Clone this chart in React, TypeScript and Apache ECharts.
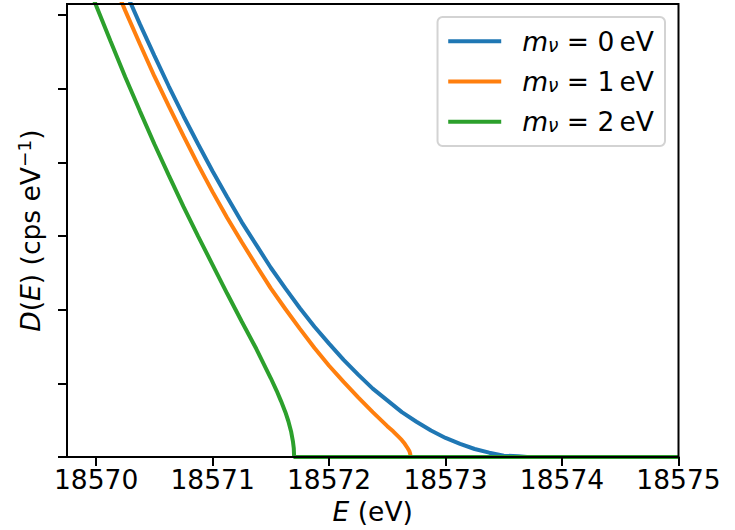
import React, { useEffect, useRef } from "react";
import * as echarts from "echarts";

// ---- data ----
const xTicks = [18570, 18571, 18572, 18573, 18574, 18575];
const yTicks = [0, 1, 2, 3, 4, 5, 6];
const neutrinoMasses = [0, 1, 2];
const colors = ["#1f77b4", "#ff7f0e", "#2ca02c"];

const blueE = [
  18570.25, 18570.375, 18570.5, 18570.625, 18570.75, 18570.875, 18571.0, 18571.125,
  18571.25, 18571.375, 18571.5, 18571.625, 18571.75, 18571.875, 18572.0, 18572.125,
  18572.25, 18572.375, 18572.5, 18572.625, 18572.75, 18572.875, 18573.0, 18573.125,
  18573.25, 18573.375, 18573.5, 18573.625, 18573.7, 18575,
];
const blueD = [
  6.33, 5.88, 5.45, 5.03, 4.63, 4.25, 3.88, 3.53,
  3.19, 2.88, 2.57, 2.29, 2.02, 1.77, 1.54, 1.32,
  1.12, 0.93, 0.77, 0.61, 0.48, 0.36, 0.26, 0.18,
  0.11, 0.06, 0.02, 0.01, 0, 0,
];

const orangeE = [
  18570.125, 18570.25, 18570.375, 18570.5, 18570.625, 18570.75, 18570.875, 18571.0,
  18571.125, 18571.25, 18571.375, 18571.5, 18571.625, 18571.75, 18571.875, 18572.0,
  18572.125, 18572.25, 18572.375, 18572.5, 18572.55, 18572.6, 18572.625, 18572.65,
  18572.675, 18572.69, 18572.697, 18572.7, 18575,
];
const orangeD = [
  6.53, 6.06, 5.61, 5.17, 4.76, 4.36, 3.97, 3.6,
  3.25, 2.92, 2.6, 2.29, 2.01, 1.74, 1.48, 1.24,
  1.02, 0.81, 0.61, 0.42, 0.35, 0.27, 0.23, 0.18,
  0.12, 0.08, 0.04, 0, 0,
];

const greenE = [
  18569.875, 18570.0, 18570.125, 18570.25, 18570.375, 18570.5, 18570.625, 18570.75,
  18570.875, 18571.0, 18571.125, 18571.25, 18571.375, 18571.5, 18571.55, 18571.5875,
  18571.625, 18571.65, 18571.675, 18571.69, 18571.697, 18571.7, 18575,
];
const greenD = [
  6.63, 6.13, 5.64, 5.16, 4.7, 4.25, 3.82, 3.4,
  3.0, 2.61, 2.22, 1.84, 1.47, 1.07, 0.9, 0.76,
  0.61, 0.49, 0.34, 0.21, 0.12, 0, 0,
];

const seriesE = [blueE, orangeE, greenE];
const seriesD = [blueD, orangeD, greenD];

const FONT = "DejaVu Sans";
const FS = 26.5;

export default function App() {
  const ref = useRef<HTMLDivElement>(null);

  useEffect(() => {
    if (!ref.current) return;
    const chart = echarts.init(ref.current, null, { renderer: "svg" });

    const names = neutrinoMasses.map((m) => `m_ν = ${m} eV`);

    const series = names.map((name, i) => ({
      name,
      type: "line",
      data: seriesE[i].map((e, k) => [e, seriesD[i][k]]),
      showSymbol: false,
      symbol: "none",
      lineStyle: { color: colors[i], width: 4 },
      itemStyle: { color: colors[i] },
      clip: true,
      z: 3 + i,
    }));

    chart.setOption({
      animation: false,
      textStyle: { fontFamily: FONT },
      grid: {
        left: 67,
        right: 56.5,
        top: 4,
        bottom: 71,
        show: true,
        z: 10,
        borderColor: "#000",
        borderWidth: 2,
        backgroundColor: "transparent",
      },
      legend: {
        z: 20,
        orient: "vertical",
        right: 70,
        top: 17,
        padding: [10.7, 11, 10.7, 10.7],
        itemGap: 13.3,
        itemWidth: 53,
        itemHeight: 4,
        icon: "rect",
        selectedMode: false,
        backgroundColor: "#ffffff",
        borderColor: "#d3d3d3",
        borderWidth: 2,
        borderRadius: 5,
        data: names,
        formatter: (name: string) => {
          const idx = names.indexOf(name);
          return `{m|m}{n|ν}{t| = ${neutrinoMasses[idx]}\u2009eV}`;
        },
        textStyle: {
          color: "#000",
          fontFamily: FONT,
          fontSize: FS,
          rich: {
            m: {
              fontFamily: FONT,
              fontStyle: "italic",
              fontSize: FS,
              lineHeight: 27,
              color: "#000",
              padding: [0, 0, 0, 16],
            },
            n: {
              fontFamily: FONT,
              fontStyle: "italic",
              fontSize: 18.5,
              lineHeight: 6,
              verticalAlign: "bottom",
              color: "#000",
            },
            t: {
              fontFamily: FONT,
              fontSize: FS,
              lineHeight: 27,
              color: "#000",
            },
          },
        },
      },
      xAxis: {
        type: "value",
        min: 18569.75,
        max: 18575,
        z: 10,
        name: "{i|E}{r| (eV)}",
        nameLocation: "middle",
        nameGap: 34,
        nameTextStyle: {
          color: "#000",
          fontFamily: FONT,
          fontSize: FS,
          rich: {
            i: { fontFamily: FONT, fontStyle: "italic", fontSize: FS, color: "#000" },
            r: { fontFamily: FONT, fontSize: FS, color: "#000" },
          },
        },
        axisLine: { show: true, lineStyle: { color: "#000", width: 2 } },
        axisTick: {
          show: true,
          inside: false,
          length: 9,
          lineStyle: { color: "#000", width: 2 },
          customValues: xTicks,
        },
        axisLabel: {
          show: true,
          margin: 9,
          color: "#000",
          fontFamily: FONT,
          fontSize: FS,
          customValues: xTicks,
          formatter: (v: number) => String(v),
        },
        splitLine: { show: false },
      },
      yAxis: {
        type: "value",
        min: 0,
        max: 6.15,
        z: 10,
        name: "{i|D}{r|(}{i|E}{r|) (cps eV}{s|−1}{r|)}",
        nameLocation: "middle",
        nameGap: 22,
        nameTextStyle: {
          color: "#000",
          fontFamily: FONT,
          fontSize: FS,
          rich: {
            i: { fontFamily: FONT, fontStyle: "italic", fontSize: FS, lineHeight: 30, color: "#000" },
            r: { fontFamily: FONT, fontSize: FS, lineHeight: 30, color: "#000" },
            s: { fontFamily: FONT, fontSize: 18.5, lineHeight: 14, verticalAlign: "top", color: "#000" },
          },
        },
        axisLine: { show: true, lineStyle: { color: "#000", width: 2 } },
        axisTick: {
          show: true,
          inside: false,
          length: 9,
          lineStyle: { color: "#000", width: 2 },
          customValues: yTicks,
        },
        axisLabel: { show: false, customValues: yTicks },
        splitLine: { show: false },
      },
      series,
    });

    return () => chart.dispose();
  }, []);

  return (
    <div
      ref={ref}
      style={{ position: "fixed", left: 0, top: 0, width: 735, height: 530, background: "#fff" }}
    />
  );
}
